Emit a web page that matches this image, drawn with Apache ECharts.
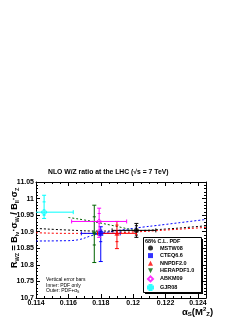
<!DOCTYPE html>
<html><head><meta charset="utf-8">
<script src="https://cdn.jsdelivr.net/npm/echarts@6/dist/echarts.min.js"></script>
<style>html,body{margin:0;padding:0;background:#fff}#c{width:249px;height:323px}</style>
</head><body><div id="c"></div>
<script>
// ---- data ----
const xTickLabels = ['0.114','0.116','0.118','0.12','0.122','0.124'];
const yTickLabels = ['10.7','10.75','10.8','10.85','10.9','10.95','11','11.05'];
const pdfNames  = ['MSTW08','CTEQ6.6','NNPDF2.0','HERAPDF1.0','ABKM09','GJR08'];
const pdfColors = ['#000000','#0000ff','#ff0000','#006400','#ff00ff','#00ffff'];
const alphaS     = [0.1202, 0.1180, 0.1190, 0.1176, 0.1179, 0.1145];
const alphaSLow  = [0.1187, 0.1168, 0.1178, null,   0.1162, 0.1127];
const alphaSHigh = [0.1214, 0.1192, 0.1202, null,   0.1196, 0.1163];
const ratio      = [10.904, 10.895, 10.895, 10.893, 10.931, 10.959];
const innerLow   = [10.890, 10.870, 10.870, 10.860, 10.905, 10.950];
const innerHigh  = [10.918, 10.905, 10.920, 10.945, 10.955, 10.990];
const outerLow   = [10.883, 10.810, 10.849, 10.807, 10.883, 10.940];
const outerHigh  = [10.925, 10.915, 10.931, 10.980, 10.971, 11.010];
// dotted curves: ratio vs alpha_s for each PDF
const curveAlphaS = [0.1140, 0.1160, 0.1180, 0.1200, 0.1220, 0.1245];
const mstwCurve   = [10.910, 10.905, 10.902, 10.903, 10.908, 10.918];
const cteqCurve   = [10.872, 10.873, 10.895, 10.910, 10.922, 10.937];
const nnpdfCurve  = [10.897, 10.895, 10.895, 10.899, 10.905, 10.913];
const heraAlphaS  = [0.1160, 0.1176, 0.1200];
const heraCurve   = [10.943, 10.930, 10.905];

// ---- build ----
const symbols = ['circle','rect','triangle','path://M0,0L10,0L5,10Z','diamond','path://M3,0H7V3H10V7H7V10H3V7H0V3H3Z'];
const hollow  = [false,false,false,false,true,true];
const curveData = [
  {c:0, ys:mstwCurve, xs:curveAlphaS},
  {c:1, ys:cteqCurve, xs:curveAlphaS},
  {c:2, ys:nnpdfCurve, xs:curveAlphaS},
  {c:3, ys:heraCurve, xs:heraAlphaS}
];
const series = [];
curveData.forEach(cd => {
  series.push({type:'line', data: cd.xs.map((x,i)=>[x, cd.ys[i]]), smooth:true, symbol:'none', silent:true,
    lineStyle:{color:pdfColors[cd.c], width:1, type:[2,2]}, z:2});
});
const ebData = pdfNames.map((n,i)=>[alphaS[i], ratio[i], alphaSLow[i], alphaSHigh[i], innerLow[i], innerHigh[i], outerLow[i], outerHigh[i], i]);
series.push({
  type:'custom', data: ebData, z:3, clip:true, silent:true,
  renderItem:(params, api)=>{
    const i = api.value(8);
    const col = pdfColors[i];
    const p = api.coord([api.value(0), api.value(1)]);
    const ch = [];
    const st = {stroke:col, lineWidth:1};
    const line=(x1,y1,x2,y2)=>ch.push({type:'line', shape:{x1,y1,x2,y2}, style:st});
    const xl = api.value(2), xh = api.value(3);
    if (!isNaN(xl) && xl !== null && xl !== '-') {
      const a = api.coord([xl, api.value(1)]), b = api.coord([xh, api.value(1)]);
      line(a[0],p[1],b[0],p[1]);
      line(a[0],p[1]-2,a[0],p[1]+2);
      line(b[0],p[1]-2,b[0],p[1]+2);
    }
    const oL = api.coord([api.value(0), api.value(6)])[1];
    const oH = api.coord([api.value(0), api.value(7)])[1];
    const iL = api.coord([api.value(0), api.value(4)])[1];
    const iH = api.coord([api.value(0), api.value(5)])[1];
    line(p[0],oL,p[0],oH);
    line(p[0]-2,oL,p[0]+2,oL); line(p[0]-2,oH,p[0]+2,oH);
    line(p[0]-1.5,iL,p[0]+1.5,iL); line(p[0]-1.5,iH,p[0]+1.5,iH);
    return {type:'group', children:ch};
  }
});
pdfNames.forEach((n,i)=>{
  series.push({type:'scatter', name:n, data:[[alphaS[i], ratio[i]]], symbol:symbols[i], symbolSize:5, z:5, silent:true,
    itemStyle: hollow[i] ? {color:'rgba(255,255,255,0)', borderColor:pdfColors[i], borderWidth:1} : {color:pdfColors[i]}});
});

const F = 'Liberation Sans, Arial, sans-serif';
const axisCommon = {
  axisLine:{lineStyle:{color:'#000', width:1}},
  splitLine:{show:false},
  minorSplitLine:{show:false}
};
const option = {
  animation:false,
  grid:{left:36, right:43, top:182, bottom:25},
  xAxis:[
    Object.assign({type:'value', min:0.114, max:0.1245, interval:0.002, position:'bottom',
      axisTick:{inside:true, length:4, lineStyle:{color:'#000'}},
      minorTick:{show:true, splitNumber:4, length:2, lineStyle:{color:'#000'}},
      axisLabel:{fontFamily:F, fontWeight:'bold', fontSize:7, color:'#000', margin:2,
        formatter:(v)=>{const k = Math.round((v-0.114)/0.002); return xTickLabels[k] ?? '';}}}, axisCommon),
    Object.assign({type:'value', min:0.114, max:0.1245, interval:0.002, position:'top',
      axisTick:{inside:true, length:4, lineStyle:{color:'#000'}},
      minorTick:{show:true, splitNumber:4, length:2, lineStyle:{color:'#000'}},
      axisLabel:{show:false}}, axisCommon)
  ],
  yAxis:[
    Object.assign({type:'value', min:10.7, max:11.05, interval:0.05, position:'left',
      axisTick:{inside:true, length:4, lineStyle:{color:'#000'}},
      minorTick:{show:true, splitNumber:5, length:2, lineStyle:{color:'#000'}},
      axisLabel:{fontFamily:F, fontWeight:'bold', fontSize:7, color:'#000', margin:2,
        formatter:(v)=>{const k = Math.round((v-10.7)/0.05); return yTickLabels[k] ?? '';}}}, axisCommon),
    Object.assign({type:'value', min:10.7, max:11.05, interval:0.05, position:'right',
      axisTick:{inside:true, length:4, lineStyle:{color:'#000'}},
      minorTick:{show:true, splitNumber:5, length:2, lineStyle:{color:'#000'}},
      axisLabel:{show:false}}, axisCommon)
  ],
  legend:{
    data:pdfNames, orient:'vertical', left:147, top:245, itemWidth:5, itemHeight:5, itemGap:1.6,
    textStyle:{fontFamily:F, fontWeight:'bold', fontSize:5.5, lineHeight:6, color:'#000', padding:[0,0,0,2]},
    selectedMode:false, padding:0
  },
  series: series,
  graphic:[
    {type:'rect', left:145, top:239, shape:{width:58, height:55}, style:{fill:'#000'}, z:0},
    {type:'rect', left:143, top:237, shape:{width:58, height:55}, style:{fill:'#fff', stroke:'#000', lineWidth:1}, z:1},
    {type:'text', left:145, top:238, style:{text:'68% C.L. PDF', font:'bold 5.5px Liberation Sans', fill:'#000'}, z:2},
    {type:'text', left:48, top:169, style:{text:'NLO W/Z ratio at the LHC (\u221As = 7 TeV)', font:'bold 6.8px Liberation Sans', fill:'#000'}},
    {type:'text', left:46, top:277, style:{text:'Vertical error bars\nInner: PDF only', font:'5px Liberation Sans', fill:'#000', lineHeight:5.8}},
    {type:'text', left:46, top:288.5, style:{text:'{a|Outer: PDF+\u03B1}{s|S}', font:'5px Liberation Sans', fill:'#000',
      rich:{a:{fontSize:5, fontFamily:'Liberation Sans'}, s:{fontSize:3.5, fontFamily:'Liberation Sans', padding:[3,0,0,0]}}}},
    {type:'text', left:182, top:306, style:{text:'{a|\u03B1}{s|S}{a|(M}{p|2}{s|Z}{a|)}', fill:'#000',
      rich:{a:{fontSize:9.5, fontFamily:'Liberation Sans', fontWeight:'bold'}, s:{fontSize:6, fontWeight:'bold', fontFamily:'Liberation Sans', padding:[5,0,0,0]}, p:{fontSize:6, fontWeight:'bold', fontFamily:'Liberation Sans', padding:[0,0,6,0]}}}},
    {type:'text', x:9, y:268, rotation:Math.PI/2, style:{text:'{a|R}{s|WZ}{a| = B}{s|l\u03BD}{a|\u00B7\u03C3}{s|W}{a| / B}{s|ll}{a|\u00B7\u03C3}{s|Z}', fill:'#000',
      rich:{a:{fontSize:9, fontFamily:'Liberation Sans', fontWeight:'bold'}, s:{fontSize:5.5, fontWeight:'bold', fontFamily:'Liberation Sans', padding:[5,0,0,0]}}}}
  ]
};
const chart = echarts.init(document.getElementById('c'), null, {renderer:'canvas'});
chart.setOption(option);
</script></body></html>
